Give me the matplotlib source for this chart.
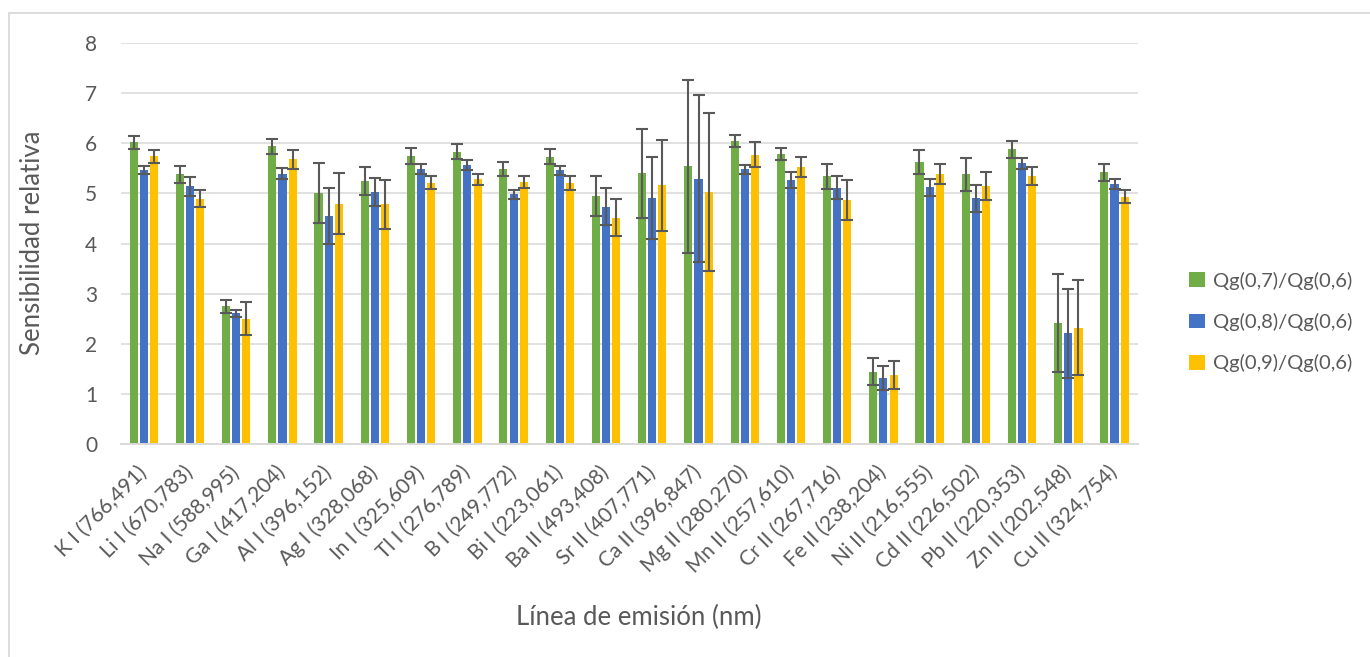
import numpy as np
import matplotlib
matplotlib.use("Agg")
import matplotlib.pyplot as plt
from matplotlib.patches import Rectangle

plt.rcParams["font.family"] = ["Lato", "DejaVu Sans"]

lineas = ["K I (766,491)", "Li I (670,783)", "Na I (588,995)", "Ga I (417,204)",
          "Al I (396,152)", "Ag I (328,068)", "In I (325,609)", "Tl I (276,789)",
          "B I (249,772)", "Bi I (223,061)", "Ba II (493,408)", "Sr II (407,771)",
          "Ca II (396,847)", "Mg II (280,270)", "Mn II (257,610)", "Cr II (267,716)",
          "Fe II (238,204)", "Ni II (216,555)", "Cd II (226,502)", "Pb II (220,353)",
          "Zn II (202,548)", "Cu II (324,754)"]

q07 = [6.02, 5.38, 2.75, 5.94, 5.00, 5.25, 5.74, 5.83, 5.48, 5.73, 4.95,
       5.40, 5.54, 6.04, 5.78, 5.34, 1.45, 5.62, 5.38, 5.88, 2.42, 5.42]
e07 = [0.13, 0.17, 0.13, 0.15, 0.60, 0.28, 0.16, 0.155, 0.14, 0.145, 0.40,
       0.89, 1.72, 0.12, 0.12, 0.25, 0.265, 0.235, 0.33, 0.17, 0.98, 0.165]
q08 = [5.46, 5.14, 2.61, 5.39, 4.55, 5.02, 5.48, 5.56, 4.98, 5.46, 4.73,
       4.91, 5.29, 5.48, 5.26, 5.11, 1.32, 5.12, 4.90, 5.60, 2.21, 5.18]
e08 = [0.08, 0.19, 0.065, 0.11, 0.56, 0.28, 0.10, 0.105, 0.09, 0.09, 0.37,
       0.82, 1.66, 0.09, 0.155, 0.225, 0.24, 0.165, 0.27, 0.11, 0.89, 0.10]
q09 = [5.74, 4.89, 2.50, 5.68, 4.79, 4.78, 5.21, 5.28, 5.23, 5.20, 4.51,
       5.16, 5.03, 5.77, 5.52, 4.87, 1.38, 5.38, 5.15, 5.34, 2.32, 4.93]
e09 = [0.13, 0.17, 0.33, 0.19, 0.61, 0.49, 0.13, 0.11, 0.12, 0.14, 0.37,
       0.91, 1.57, 0.25, 0.20, 0.40, 0.28, 0.20, 0.28, 0.18, 0.945, 0.13]

series = [
    ("Qg(0,7)/Qg(0,6)", q07, e07, "#70AD47"),
    ("Qg(0,8)/Qg(0,6)", q08, e08, "#4472C4"),
    ("Qg(0,9)/Qg(0,6)", q09, e09, "#FFC000"),
]

grey = "#595959"
fig = plt.figure(figsize=(13.7, 6.57), dpi=100)
ax = fig.add_axes([0.0881, 0.3237, 0.7423, 0.6113])

x = np.arange(len(lineas))
w, step = 0.175, 0.22
for i, (name, vals, errs, col) in enumerate(series):
    ax.bar(x + (i - 1) * step, vals, w, color=col, label=name, zorder=2,
           yerr=errs, error_kw=dict(ecolor=grey, elinewidth=1.5, capsize=4.2,
                                    capthick=1.5, zorder=3))

ax.set_xlim(-0.5, len(lineas) - 0.5)
ax.set_ylim(0, 8)
ax.set_yticks(range(0, 9))
ax.yaxis.grid(True, color="#d9d9d9", lw=1.1, zorder=0)
ax.set_axisbelow(True)
for s in ["top", "right", "left"]:
    ax.spines[s].set_visible(False)
ax.spines["bottom"].set_color("#d9d9d9")
ax.spines["bottom"].set_linewidth(1.4)
ax.tick_params(axis="both", length=0, colors=grey, labelsize=15)
ax.tick_params(axis="y", pad=17)
ax.tick_params(axis="x", pad=18)
ax.set_xticks(x)
ax.set_xticklabels(lineas, rotation=45, ha="right", va="center",
                   rotation_mode="anchor")

fig.text(0.024, 0.63, "Sensibilidad relativa", rotation=90, ha="center",
         va="center", fontsize=18.5, color=grey)
fig.text(0.466, 0.06, "Línea de emisión (nm)", ha="center", va="center",
         fontsize=18.5, color=grey)

leg = fig.legend(loc="center left", bbox_to_anchor=(0.855, 0.51), frameon=False,
                 fontsize=14.5, handlelength=0.75, handleheight=0.75,
                 handletextpad=0.4, labelspacing=1.15, labelcolor=grey)

# chart-area frame
fig.patches.append(Rectangle((9 / 1370, -0.1), 1.2, 1.1 - 13 / 657,
                             transform=fig.transFigure, fill=False,
                             edgecolor="#d9d9d9", lw=1.3))

fig.savefig("out.png", dpi=100)
